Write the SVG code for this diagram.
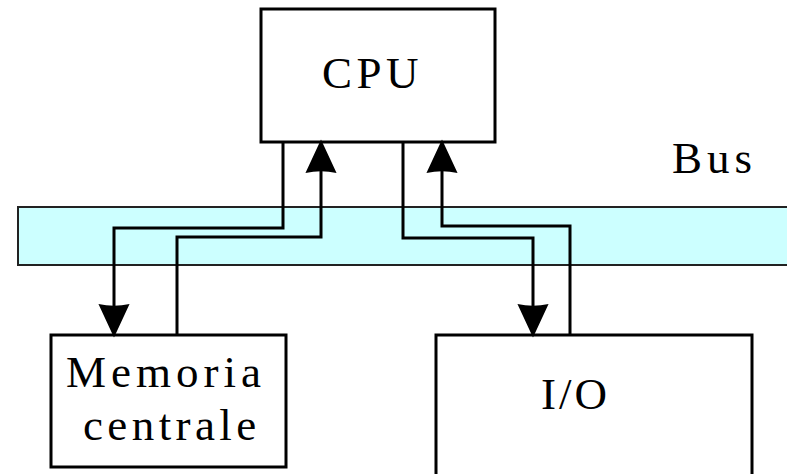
<svg xmlns="http://www.w3.org/2000/svg" width="787" height="474" viewBox="0 0 787 474">
<style>
.box{fill:#fff;stroke:#000;stroke-width:3}
.bus{fill:#ccffff;stroke:#222;stroke-width:2}
.lbl{font-family:"Liberation Serif","Times New Roman",serif;font-size:45px;fill:#000}
.wire{fill:none;stroke:#000;stroke-width:3}
</style>
<defs>
<marker id="ah" markerUnits="userSpaceOnUse" markerWidth="40" markerHeight="40" viewBox="-2 -16 36 32" refX="8" refY="0" orient="auto">
<path d="M0,-14 L30,0 L0,14 Q3,0 0,-14 Z" fill="#000"/>
</marker>
</defs>
<g id="bus">
<rect class="bus" x="18" y="207" width="780" height="58"/>
<text class="lbl" x="672" y="173" letter-spacing="5">Bus</text>
</g>
<g id="cpu">
<rect class="box" x="261" y="9" width="234" height="133"/>
<text class="lbl" x="322" y="88" letter-spacing="4.5" font-size="48">CPU</text>
</g>
<g id="memoria">
<rect class="box" x="51" y="335" width="235" height="132"/>
<text class="lbl" x="66" y="387" letter-spacing="5">Memoria</text>
<text class="lbl" x="83" y="440" letter-spacing="4.4">centrale</text>
</g>
<g id="io">
<rect class="box" x="436" y="335" width="316" height="150"/>
<text class="lbl" x="541" y="409" letter-spacing="3">I/O</text>
</g>
<g id="connectors">
<path class="wire" d="M283,142 V228 H114 V313" marker-end="url(#ah)"/>
<path class="wire" d="M177,335 V237 H321 V164" marker-end="url(#ah)"/>
<path class="wire" d="M403,142 V238 H533 V313" marker-end="url(#ah)"/>
<path class="wire" d="M570,335 V226 H442 V164" marker-end="url(#ah)"/>
</g>
</svg>
